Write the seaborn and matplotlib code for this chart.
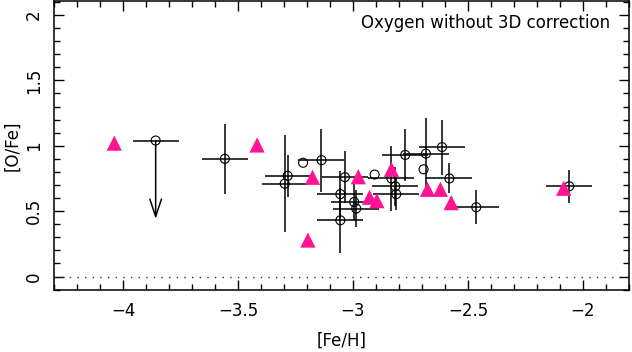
import numpy as np
import matplotlib
matplotlib.use('Agg')
import matplotlib.pyplot as plt
from matplotlib.ticker import MultipleLocator
import pandas as pd
import seaborn as sns

# stars with 1D O abundances (open circles + error bars)
fe_h = [-3.557, -3.284, -3.297, -3.137, -3.035, -3.055, -2.995, -2.986, -3.055,
        -2.833, -2.816, -2.812, -2.773, -2.683, -2.613, -2.581, -2.464, -2.060]
o_fe = [0.90, 0.77, 0.71, 0.89, 0.76, 0.63, 0.57, 0.52, 0.43,
        0.75, 0.69, 0.63, 0.93, 0.94, 0.99, 0.75, 0.53, 0.69]
fe_err = [0.10] * len(fe_h)
o_err = [0.27, 0.16, 0.37, 0.24, 0.20, 0.18, 0.14, 0.14, 0.25,
         0.25, 0.15, 0.12, 0.20, 0.27, 0.21, 0.115, 0.13, 0.125]

# upper limit
lim_fe, lim_o, lim_to = -3.858, 1.04, 0.44

# stars without error bars
plain_fe = [-3.217, -2.906, -2.693]
plain_o = [0.87, 0.78, 0.82]

# comparison sample (pink triangles)
tri_fe = [-4.038, -3.417, -3.176, -3.196, -2.977, -2.928, -2.896, -2.833,
          -2.676, -2.620, -2.573, -2.084]
tri_o = [1.02, 1.006, 0.759, 0.279, 0.763, 0.606, 0.58, 0.82,
         0.667, 0.667, 0.565, 0.675]

sns.set_theme(style='ticks')
plt.rcParams['font.family'] = ['DejaVu Sans']

fig = plt.figure(figsize=(6.32, 3.52), dpi=100)
ax = fig.add_axes([54 / 632, 1 - 290 / 352, 575 / 632, 289 / 352])

df = pd.DataFrame({'fe': fe_h, 'o': o_fe})
ax.errorbar(fe_h, o_fe, xerr=fe_err, yerr=o_err, fmt='none', ecolor='black',
            elinewidth=1.1, capsize=0, zorder=2)
ax.errorbar([lim_fe], [lim_o], xerr=[0.10], fmt='none', ecolor='black',
            elinewidth=1.1, capsize=0, zorder=2)
ax.annotate('', xy=(lim_fe, lim_to), xytext=(lim_fe, lim_o),
            arrowprops=dict(arrowstyle='->,head_length=0.9,head_width=0.3',
                            lw=1.1, color='black', mutation_scale=14,
                            shrinkA=0, shrinkB=0), zorder=2)

circ = pd.DataFrame({'fe': fe_h + [lim_fe] + plain_fe,
                     'o': o_fe + [lim_o] + plain_o})
sns.scatterplot(data=circ, x='fe', y='o', marker='o', s=42, facecolor='none',
                edgecolor='black', linewidth=0.8, ax=ax, zorder=3)

tri = pd.DataFrame({'fe': tri_fe, 'o': tri_o})
sns.scatterplot(data=tri, x='fe', y='o', marker='^', s=120, color='#ff1493',
                edgecolor='none', linewidth=0, ax=ax, zorder=4)

ax.axhline(0, color='#333333', lw=1, dashes=(1, 4.5), zorder=1)

ax.set_xlim(-4.3, -1.8)
ax.set_ylim(-0.103, 2.107)
ax.xaxis.set_major_locator(MultipleLocator(0.5))
ax.xaxis.set_minor_locator(MultipleLocator(0.1))
ax.yaxis.set_major_locator(MultipleLocator(0.5))
ax.yaxis.set_minor_locator(MultipleLocator(0.1))
ax.set_xticks([-4, -3.5, -3, -2.5, -2])
ax.set_xticklabels(['\u22124', '\u22123.5', '\u22123', '\u22122.5', '\u22122'])
ax.set_yticks([0, 0.5, 1, 1.5, 2])
ax.set_yticklabels(['0', '0.5', '1', '1.5', '2'], rotation=90, va='center')

ax.tick_params(which='both', direction='in', top=True, right=True,
               color='black', width=1, labelsize=12, labelcolor='black')
ax.tick_params(which='major', length=7)
ax.tick_params(which='minor', length=4)
ax.tick_params(axis='x', which='major', pad=9)
ax.tick_params(axis='y', which='major', pad=8)
for s in ax.spines.values():
    s.set_color('black')
    s.set_linewidth(1.1)

ax.set_xlabel('[Fe/H]', fontsize=12, color='black')
ax.set_ylabel('[O/Fe]', fontsize=12, color='black')
ax.xaxis.label.set_va('center')
ax.xaxis.set_label_coords(0.5, -0.175)
ax.yaxis.label.set_va('center')
ax.yaxis.set_label_coords(-0.072, 0.5)

ax.text(0.967, 0.925, 'Oxygen without 3D correction', transform=ax.transAxes,
        ha='right', va='center', fontsize=12, color='black')

fig.savefig('out.png', dpi=100)
